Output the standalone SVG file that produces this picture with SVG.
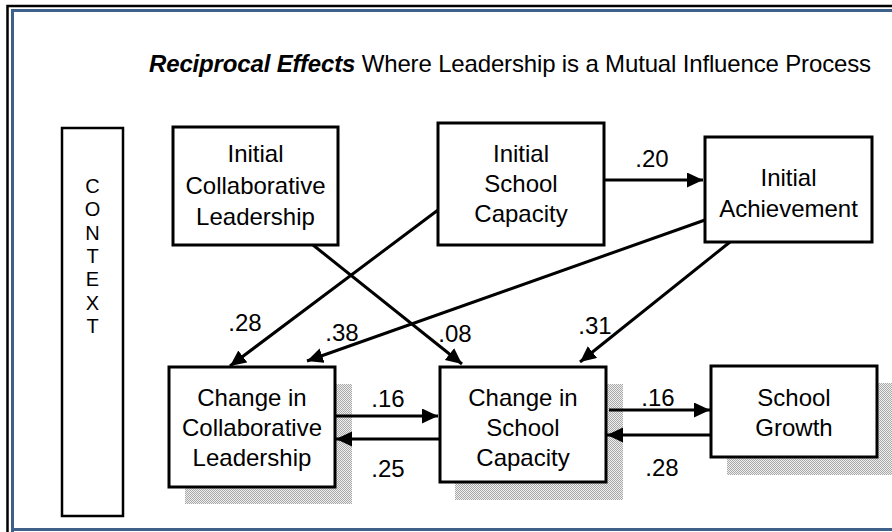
<svg xmlns="http://www.w3.org/2000/svg" width="892" height="532" viewBox="0 0 892 532">
  <style>
    text { font-family: "Liberation Sans", Arial, sans-serif; font-size: 24px; fill: #000; }
    .lbl { text-anchor: middle; }
    .ctx { text-anchor: middle; font-size: 20px; }
    .box { fill: #fff; stroke: #000; stroke-width: 3; }
    .shadow { fill: url(#dots); }
    .edge { stroke: #000; stroke-width: 3; fill: none; marker-end: url(#head); }
  </style>
  <defs>
    <pattern id="dots" width="2" height="2" patternUnits="userSpaceOnUse">
      <rect width="2" height="2" fill="#eeeeee"/>
      <rect width="1" height="1" fill="#a9a9a9"/>
      <rect x="1" y="1" width="1" height="1" fill="#a9a9a9"/>
    </pattern>
    <marker id="head" markerUnits="userSpaceOnUse" markerWidth="18" markerHeight="16" refX="16" refY="7.5" orient="auto">
      <path d="M0,0 L16,7.5 L0,15 Z" fill="#000"/>
    </marker>
  </defs>

  <rect width="892" height="532" fill="#fff"/>

  <!-- page frame: black outer rule, blue inner rule -->
  <path d="M7.5,532 V6 H892" fill="none" stroke="#000" stroke-width="2.5"/>
  <path d="M12.5,532 V10.5 H892" fill="none" stroke="#3f6089" stroke-width="3"/>
  <path d="M11,529.5 H892" fill="none" stroke="#3f6089" stroke-width="3"/>

  <!-- heading -->
  <text x="149" y="72" font-size="23.5" textLength="722" lengthAdjust="spacing"><tspan font-weight="bold" font-style="italic">Reciprocal Effects</tspan> Where Leadership is a Mutual Influence Process</text>

  <!-- context bar -->
  <g id="context">
    <rect x="62" y="128" width="61" height="388" fill="#fff" stroke="#000" stroke-width="2.5"/>
    <text class="ctx" x="92.5" y="193">C</text>
    <text class="ctx" x="92.5" y="216.3">O</text>
    <text class="ctx" x="92.5" y="239.6">N</text>
    <text class="ctx" x="92.5" y="262.9">T</text>
    <text class="ctx" x="92.5" y="286.2">E</text>
    <text class="ctx" x="92.5" y="309.5">X</text>
    <text class="ctx" x="92.5" y="332.8">T</text>
  </g>

  <g id="initial-collaborative-leadership">
    <rect class="box" x="173" y="127" width="165" height="118"/>
    <text class="lbl" x="255.5" y="162">Initial</text>
    <text class="lbl" x="255.5" y="194">Collaborative</text>
    <text class="lbl" x="255.5" y="225">Leadership</text>
  </g>

  <g id="initial-school-capacity">
    <rect class="box" x="438" y="123" width="166" height="122"/>
    <text class="lbl" x="521" y="162">Initial</text>
    <text class="lbl" x="521" y="192">School</text>
    <text class="lbl" x="521" y="222">Capacity</text>
  </g>

  <g id="initial-achievement">
    <rect class="box" x="705" y="137" width="167" height="105"/>
    <text class="lbl" x="788.5" y="186">Initial</text>
    <text class="lbl" x="788.5" y="217">Achievement</text>
  </g>

  <g id="change-collaborative-leadership">
    <rect class="shadow" x="185" y="384" width="167" height="120"/>
    <rect class="box" x="169" y="367" width="166" height="120"/>
    <text class="lbl" x="252" y="406">Change in</text>
    <text class="lbl" x="252" y="436">Collaborative</text>
    <text class="lbl" x="252" y="466">Leadership</text>
  </g>

  <g id="change-school-capacity">
    <rect class="shadow" x="455" y="384" width="168" height="116"/>
    <rect class="box" x="440" y="367" width="166" height="115"/>
    <text class="lbl" x="523" y="406">Change in</text>
    <text class="lbl" x="523" y="436">School</text>
    <text class="lbl" x="523" y="466">Capacity</text>
  </g>

  <g id="school-growth">
    <rect class="shadow" x="727" y="383" width="170" height="92"/>
    <rect class="box" x="711" y="366" width="166" height="91"/>
    <text class="lbl" x="794" y="406">School</text>
    <text class="lbl" x="794" y="436">Growth</text>
  </g>

  <!-- paths and coefficients -->
  <g id="connectors">
    <path class="edge" d="M604,180 L703,180"/>
    <path class="edge" d="M313,245 L462,364"/>
    <path class="edge" d="M438,210 L230,366"/>
    <path class="edge" d="M705,220 L307,361"/>
    <path class="edge" d="M730,242 L580,362"/>
    <path class="edge" d="M335,416 L438,416"/>
    <path class="edge" d="M440,439 L336,439"/>
    <path class="edge" d="M609,410 L710,410"/>
    <path class="edge" d="M711,435 L607,435"/>
    <text class="lbl" x="652" y="167">.20</text>
    <text class="lbl" x="455" y="342">.08</text>
    <text class="lbl" x="245" y="331">.28</text>
    <text class="lbl" x="342" y="341">.38</text>
    <text class="lbl" x="595" y="334">.31</text>
    <text class="lbl" x="388" y="407">.16</text>
    <text class="lbl" x="388" y="477">.25</text>
    <text class="lbl" x="658" y="406">.16</text>
    <text class="lbl" x="662" y="476">.28</text>
  </g>
</svg>
